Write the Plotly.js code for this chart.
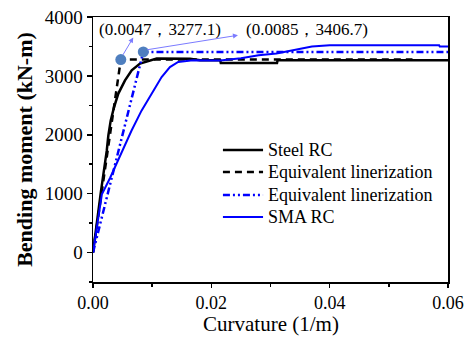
<!DOCTYPE html>
<html>
<head>
<meta charset="utf-8">
<script src="https://cdn.plot.ly/plotly-3.0.1.min.js"></script>
<style>html,body{margin:0;padding:0;background:#fff;}#chart{width:470px;height:337px;}</style>
</head>
<body>
<div id="chart"></div>
<script>
// Steel RC moment-curvature
const steelX = [0, 0.0003, 0.00063, 0.00135, 0.00232, 0.00259, 0.00299, 0.00355, 0.00428, 0.00541, 0.00654, 0.00794, 0.01077, 0.0164, 0.0181, 0.0215, 0.0216, 0.0311, 0.0312, 0.06];
const steelY = [0, 250, 530, 1043, 1726, 1983, 2240, 2467, 2700, 2923, 3094, 3208, 3294, 3290, 3265, 3265, 3220, 3220, 3265, 3265];
// Equivalent linearization (steel)
const eqSteelX = [0, 0.0047, 0.054];
const eqSteelY = [0, 3277.1, 3277.1];
// Equivalent linearization (SMA)
const eqSmaX = [0, 0.0085, 0.06];
const eqSmaY = [0, 3406.7, 3406.7];
// SMA RC moment-curvature
const smaX = [0, 0.0005, 0.0010, 0.0015, 0.0029, 0.0049, 0.0065, 0.0082, 0.0102, 0.0116, 0.0130, 0.0144, 0.0169, 0.0215, 0.025, 0.028, 0.031, 0.034, 0.037, 0.040, 0.0585, 0.0586, 0.06];
const smaY = [0, 350, 680, 990, 1270, 1726, 2068, 2410, 2752, 2980, 3150, 3236, 3265, 3262, 3300, 3350, 3380, 3440, 3500, 3520, 3520, 3500, 3500];
// Yield points
const yieldX = [0.0047, 0.0085];
const yieldY = [3277.1, 3406.7];
const yieldLabels = ["(0.0047，3277.1)", "(0.0085，3406.7)"];
const legendNames = ["Steel RC", "Equivalent linerization", "Equivalent linerization", "SMA RC"];
const xTitle = "Curvature (1/m)";
const yTitle = "Bending moment (kN-m)";

const serif = "Liberation Serif, Times New Roman, serif";

const styles = [
  {color: "#000000", width: 2.5},
  {color: "#000000", width: 2.5, dash: "7px,5px"},
  {color: "#0000ff", width: 2.5, dash: "7px,3px,2px,3px,2px,3px"},
  {color: "#0000ff", width: 2}
];
const seriesX = [steelX, eqSteelX, eqSmaX, smaX];
const seriesY = [steelY, eqSteelY, eqSmaY, smaY];

const traces = seriesX.map((xs, i) => ({x: xs, y: seriesY[i], mode: "lines", name: legendNames[i], line: styles[i], showlegend: false}));
traces.push({x: yieldX, y: yieldY, mode: "markers", showlegend: false, marker: {color: "#4f7fbf", size: 11}});

const annotations = [
  {x: 0.0113, y: 3790, xref: "x", yref: "y", text: yieldLabels[0], showarrow: false, font: {family: serif, size: 17, color: "#000"}},
  {x: 0.0361, y: 3790, xref: "x", yref: "y", text: yieldLabels[1], showarrow: false, font: {family: serif, size: 17, color: "#000"}},
  {x: 0.0068, y: 3650, ax: 0.0049, ay: 3330, xref: "x", yref: "y", axref: "x", ayref: "y", text: "", showarrow: true, arrowhead: 2, arrowsize: 1, arrowwidth: 1, arrowcolor: "#7b7bff"},
  {x: 0.0245, y: 3690, ax: 0.0089, ay: 3440, xref: "x", yref: "y", axref: "x", ayref: "y", text: "", showarrow: true, arrowhead: 2, arrowsize: 1, arrowwidth: 1, arrowcolor: "#7b7bff"},
  {x: 0.5, y: -0.160, xref: "paper", yref: "paper", xanchor: "center", yanchor: "middle", borderpad: 0, text: xTitle, showarrow: false, font: {family: serif, size: 21, color: "#000"}}
];

// custom legend (paper coordinates)
const legRowsY = [0.498, 0.415, 0.328, 0.245];
const shapes = [];
legendNames.forEach((nm, i) => {
  shapes.push({type: "line", xref: "paper", yref: "paper", x0: 0.366, x1: 0.479, y0: legRowsY[i], y1: legRowsY[i], line: styles[i]});
  annotations.push({xref: "paper", yref: "paper", x: 0.487, y: legRowsY[i], xanchor: "left", yanchor: "middle", text: nm, showarrow: false, font: {family: serif, size: 18, color: "#000"}});
});

const layout = {
  width: 470, height: 337,
  margin: {l: 93, r: 22, t: 17, b: 55},
  paper_bgcolor: "#fff", plot_bgcolor: "#fff",
  font: {family: serif, size: 19, color: "#000"},
  showlegend: false,
  xaxis: {
    range: [0, 0.06], tickvals: [0, 0.02, 0.04, 0.06], tickformat: ".2f",
    tickfont: {family: serif, size: 18},
    showgrid: false, zeroline: false, showline: true, mirror: true, linecolor: "#000", linewidth: 1.5,
    ticks: "outside", ticklen: 4, tickwidth: 1.5, tickcolor: "#000",
    minor: {tickvals: [0.01, 0.03, 0.05], ticks: "outside", ticklen: 3, tickwidth: 1.5, tickcolor: "#000"}
  },
  yaxis: {
    range: [-500, 4000], tickvals: [0, 1000, 2000, 3000, 4000],
    showgrid: false, zeroline: false, showline: true, mirror: true, linecolor: "#000", linewidth: 1.5,
    ticks: "outside", ticklen: 5, tickwidth: 1.5, tickcolor: "#000",
    minor: {tickvals: [-500, 500, 1500, 2500, 3500], ticks: "outside", ticklen: 3, tickwidth: 1.5, tickcolor: "#000"},
    title: {text: "<b>" + yTitle + "</b>", font: {family: serif, size: 22}, standoff: 6}
  },
  shapes: shapes,
  annotations: annotations
};

Plotly.newPlot("chart", traces, layout, {displayModeBar: false, staticPlot: true});
</script>
</body>
</html>
